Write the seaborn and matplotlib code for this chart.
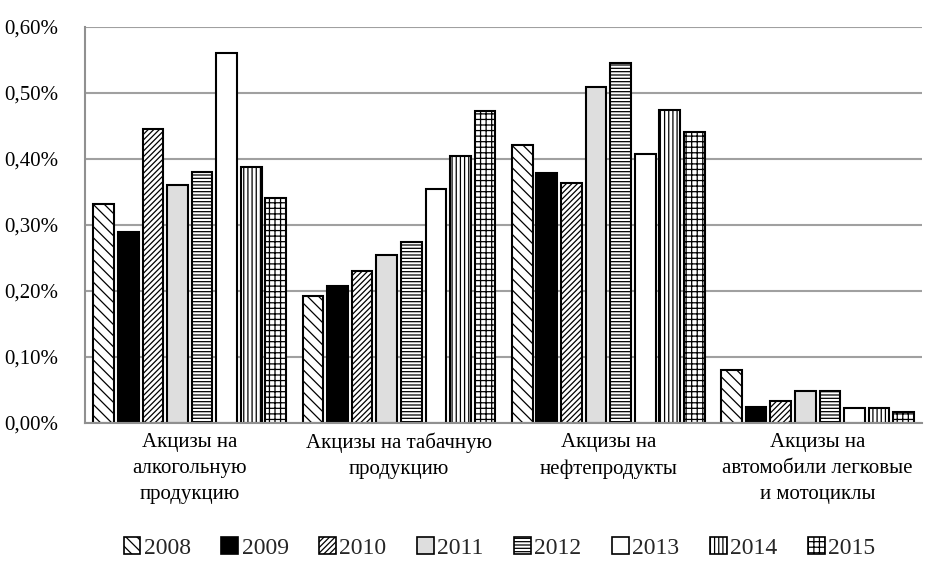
import numpy as np
import pandas as pd
import matplotlib
matplotlib.use("Agg")
import matplotlib.pyplot as plt
import seaborn as sns
from matplotlib.patches import Patch
from matplotlib.ticker import FuncFormatter

categories = ["Акцизы на\nалкогольную\nпродукцию",
              "Акцизы на табачную\nпродукцию",
              "Акцизы на\nнефтепродукты",
              "Акцизы на\nавтомобили легковые\nи мотоциклы"]
years = ["2008", "2009", "2010", "2011", "2012", "2013", "2014", "2015"]

# share of excise, %
v2008 = [0.332, 0.192, 0.421, 0.080]
v2009 = [0.290, 0.207, 0.379, 0.025]
v2010 = [0.446, 0.231, 0.364, 0.034]
v2011 = [0.360, 0.255, 0.509, 0.049]
v2012 = [0.380, 0.275, 0.545, 0.049]
v2013 = [0.560, 0.355, 0.408, 0.023]
v2014 = [0.388, 0.405, 0.474, 0.023]
v2015 = [0.341, 0.473, 0.441, 0.017]

series = [v2008, v2009, v2010, v2011, v2012, v2013, v2014, v2015]
df = pd.DataFrame({
    "cat": [c for s in series for c in categories],
    "year": [y for y, s in zip(years, series) for _ in s],
    "val": [v for s in series for v in s],
})

sns.set_theme(style="white")
plt.rcParams["font.family"] = ["Liberation Serif", "DejaVu Serif"]
plt.rcParams["hatch.linewidth"] = 0.9

faces = ["white", "black", "white", "#dedede", "white", "white", "white", "white"]
hatches = ["\\\\\\", None, "//////", None, "-----", None, "||||", "+++"]

fig = plt.figure(figsize=(9.25, 5.74), dpi=100)
ax = fig.add_axes([0.092, 0.263, 0.905, 0.69])

sns.barplot(data=df, x="cat", y="val", hue="year", hue_order=years,
            palette=["white"] * 8, width=0.94, gap=0.16, ax=ax,
            edgecolor="black", linewidth=1.5, legend=False)

for cont, fc, h in zip(ax.containers, faces, hatches):
    for bar in cont:
        bar.set_facecolor(fc)
        bar.set_edgecolor("black")
        if h:
            bar.set_hatch(h)

ax.set_ylim(0, 0.6)
ax.set_yticks(np.arange(0, 0.61, 0.1))
ax.yaxis.set_major_formatter(FuncFormatter(lambda v, p: f"{v:.2f}%".replace(".", ",")))
ax.yaxis.grid(True, color="#a0a0a0", linewidth=1.5)
ax.set_axisbelow(True)
ax.set_xlabel("")
ax.set_ylabel("")
for s in ["top", "right"]:
    ax.spines[s].set_visible(False)
for s in ["left", "bottom"]:
    ax.spines[s].set_color("#909090")
    ax.spines[s].set_linewidth(1.5)
ax.tick_params(axis="y", length=0, labelsize=15, pad=19, colors="black")
ax.tick_params(axis="x", length=0, labelsize=15, pad=7, colors="black")
for t in ax.get_xticklabels():
    t.set_linespacing(1.5)
    t.set_verticalalignment("top")

handles = [Patch(facecolor=fc, edgecolor="black", hatch=h, linewidth=1.2)
           for fc, h in zip(faces, hatches)]
fig.legend(handles, years, loc="center", bbox_to_anchor=(0.54, 0.045),
           ncol=8, frameon=False, fontsize=17, handlelength=0.7,
           handleheight=0.7, handletextpad=0.15, columnspacing=1.3)

fig.savefig("out.png", dpi=100)
